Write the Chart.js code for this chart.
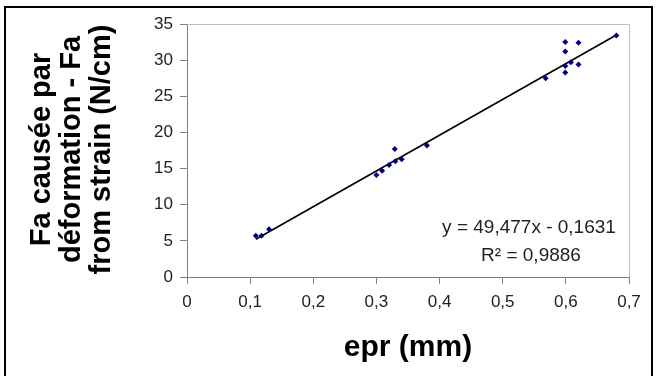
<!DOCTYPE html>
<html>
<head>
<meta charset="utf-8">
<script src="https://cdn.jsdelivr.net/npm/chart.js@4"></script>
<style>
  html, body { margin: 0; padding: 0; background: #fff; }
  #wrap { position: relative; width: 656px; height: 376px; }
  #frame { position: absolute; left: 4px; top: 6px; width: 649px; height: 376px;
           border: 2px solid #000; border-bottom: none; box-sizing: border-box; pointer-events: none; }
  canvas { position: absolute; left: 0; top: 0; }
</style>
</head>
<body>
<div id="wrap">
  <canvas id="chart" width="656" height="376"></canvas>
  <div id="frame"></div>
</div>
<script>
// measured points (epr in mm, Fa in N/cm)
const eprValues = [0.109, 0.118, 0.130, 0.300, 0.309, 0.320, 0.329, 0.330, 0.340, 0.380,
                   0.568, 0.599, 0.599, 0.599, 0.599, 0.608, 0.620, 0.620, 0.680];
const faValues  = [5.7, 5.7, 6.6, 14.1, 14.7, 15.5, 17.7, 16.0, 16.3, 18.2,
                   27.5, 32.5, 31.2, 29.2, 28.3, 29.7, 32.4, 29.4, 33.4];

// linear trendline as printed on the chart
const trendSlope = 49.477;
const trendIntercept = -0.1631;
const trendLabel = 'y = 49,477x - 0,1631';
const r2Label = 'R² = 0,9886';

const xTicks = [0, 0.1, 0.2, 0.3, 0.4, 0.5, 0.6, 0.7];
const yTicks = [0, 5, 10, 15, 20, 25, 30, 35];
const yTitle = ['Fa causée par', 'déformation - Fa', 'from strain (N/cm)'];
const xTitle = 'epr (mm)';

const FONT = '"Liberation Sans", Arial, sans-serif';

const points = eprValues.map((x, i) => ({ x, y: faValues[i] }));
const xMin = Math.min(...eprValues), xMax = Math.max(...eprValues);
const trend = [xMin, xMax].map(x => ({ x, y: trendSlope * x + trendIntercept }));

const fmt = v => v === 0 ? '0' : String(v).replace('.', ',');

// light frame of the plot area + titles + equation
const decor = {
  id: 'decor',
  beforeDatasetsDraw(chart) {
    const { ctx, chartArea: a } = chart;
    ctx.save();
    ctx.strokeStyle = '#c0c0c0';
    ctx.lineWidth = 1;
    ctx.beginPath();
    ctx.moveTo(a.left, a.top + 0.5);
    ctx.lineTo(a.right + 0.5, a.top + 0.5);
    ctx.lineTo(a.right + 0.5, a.bottom);
    ctx.stroke();
    ctx.restore();
  },
  afterDraw(chart) {
    const { ctx, chartArea: a } = chart;
    ctx.save();
    ctx.fillStyle = '#000';
    ctx.textAlign = 'center';
    ctx.textBaseline = 'alphabetic';

    // y title, rotated, three lines
    ctx.font = 'bold 29px ' + FONT;
    const cy = (a.top + a.bottom) / 2 - 1;
    [50, 80, 110].forEach((bx, i) => {
      ctx.save();
      ctx.translate(bx, cy);
      ctx.rotate(-Math.PI / 2);
      ctx.fillText(yTitle[i], 0, 0);
      ctx.restore();
    });

    // x title
    ctx.font = 'bold 30px ' + FONT;
    ctx.fillText(xTitle, (a.left + a.right) / 2, 356);

    // trendline equation
    ctx.fillStyle = '#222';
    ctx.font = '19px ' + FONT;
    ctx.fillText(trendLabel, a.right - 100, a.bottom - 44);
    ctx.fillText(r2Label, a.right - 98, a.bottom - 16);
    ctx.restore();
  }
};

new Chart(document.getElementById('chart'), {
  type: 'scatter',
  data: {
    datasets: [
      {
        data: points,
        pointStyle: 'rectRot',
        pointRadius: 3,
        backgroundColor: '#000080',
        borderColor: '#000080',
        borderWidth: 0
      },
      {
        type: 'line',
        data: trend,
        borderColor: '#000',
        borderWidth: 1.6,
        pointRadius: 0,
        fill: false
      }
    ]
  },
  options: {
    responsive: false,
    animation: false,
    layout: { padding: { left: 0, top: 24, right: 27, bottom: 0 } },
    plugins: { legend: { display: false }, tooltip: { enabled: false } },
    scales: {
      x: {
        type: 'linear',
        min: 0, max: 0.7,
        afterFit: s => { s.height = 99; },
        afterBuildTicks: s => { s.ticks = xTicks.map(value => ({ value })); },
        border: { color: '#808080', width: 1 },
        grid: { drawOnChartArea: false, tickLength: 7, color: '#808080' },
        ticks: { padding: 8, color: '#222', font: { family: FONT, size: 17 }, callback: v => fmt(v) }
      },
      y: {
        type: 'linear',
        min: 0, max: 35,
        afterFit: s => { s.width = 187; },
        afterBuildTicks: s => { s.ticks = yTicks.map(value => ({ value })); },
        border: { color: '#808080', width: 1 },
        grid: { drawOnChartArea: false, tickLength: 7, color: '#808080' },
        ticks: { padding: 7, color: '#222', font: { family: FONT, size: 17 }, callback: v => fmt(v) }
      }
    }
  },
  plugins: [decor]
});
</script>
</body>
</html>
